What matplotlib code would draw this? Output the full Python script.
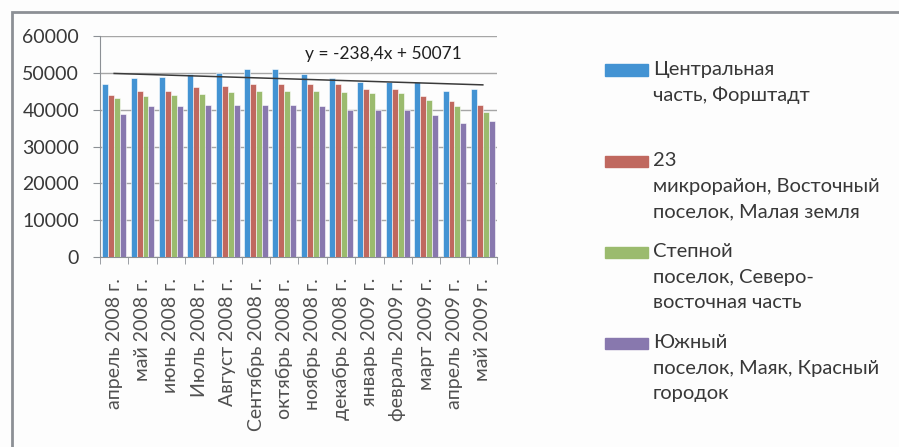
import numpy as np
import matplotlib.pyplot as plt
from matplotlib.patches import Rectangle

months = ['апрель 2008 г.', 'май 2008 г.', 'июнь 2008 г.', 'Июль 2008 г.',
          'Август 2008 г.', 'Сентябрь 2008 г.', 'октябрь 2008 г.', 'ноябрь 2008 г.',
          'декабрь 2008 г.', 'январь 2009 г.', 'февраль 2009 г.', 'март 2009 г.',
          'апрель 2009 г.', 'май 2009 г.']

central = [47000, 48500, 48800, 49700, 50000, 51000, 51000, 49700,
           48500, 47600, 47600, 47400, 45200, 45500]
mkr23 = [44000, 45200, 45200, 46200, 46500, 46900, 46900, 46900,
         46900, 45500, 45500, 43700, 42300, 41200]
stepnoy = [43200, 43700, 44000, 44300, 44900, 45200, 45200, 45200,
           44900, 44500, 44500, 42600, 41000, 39500]
yuzhny = [38900, 40900, 40900, 41200, 41200, 41400, 41400, 40900,
          40000, 40000, 40000, 38600, 36400, 36900]

series_labels = ['Центральная\nчасть, Форштадт',
                 '23\nмикрорайон, Восточный\nпоселок, Малая земля',
                 'Степной\nпоселок, Северо-\nвосточная часть',
                 'Южный\nпоселок, Маяк, Красный\nгородок']
colors = ['#4393D3', '#C0685F', '#9BBB6E', '#8878AE']

# линия тренда из подписи
trend_k = -238.4
trend_b = 50071
trend_text = 'y = -238,4x + 50071'

plt.rcParams['font.family'] = ['Lato', 'DejaVu Sans']
txt_col = '#383838'

fig = plt.figure(figsize=(8.99, 4.47), dpi=100)
fig.patch.set_facecolor('#FDFDFD')

# рамка области диаграммы
fig.patches.append(Rectangle((12 / 899, -0.1), 1.2, 1 - 12 / 447 + 0.1,
                             transform=fig.transFigure, fill=False,
                             edgecolor='#8C9095', linewidth=2))

ax = fig.add_axes([100 / 899, 1 - 257 / 447, 397 / 899, 221 / 447])
ax.set_facecolor('none')

x = np.arange(len(months))
w = 0.21
data = [central, mkr23, stepnoy, yuzhny]
for i, (vals, c) in enumerate(zip(data, colors)):
    ax.bar(x + (i - 1.5) * w, vals, width=w, color=c,
           edgecolor='white', linewidth=0.4, zorder=3)

xt = np.arange(1, len(months) + 1)
ax.plot(x, trend_k * xt + trend_b, color='#3A3A3A', linewidth=1.1, zorder=4)
ax.text(9.5, 55200, trend_text, fontsize=12.5, color='#202020',
        ha='center', va='center')

ax.set_xlim(-0.5, len(months) - 0.5)
ax.set_ylim(0, 60000)
ax.set_yticks(np.arange(0, 60001, 10000))
ax.yaxis.grid(True, color='#A6A6A6', linewidth=1, zorder=0)
ax.tick_params(axis='y', labelsize=14, colors='#8C9095', labelcolor=txt_col,
               length=5, pad=10)

ax.set_xticks(x)
ax.set_xticklabels(months, rotation=90, fontsize=14, color='#505050')
ax.set_xticks(np.arange(-0.5, len(months)), minor=True)
ax.tick_params(axis='x', which='major', length=0, pad=15)
ax.tick_params(axis='x', which='minor', length=5, color='#8C9095')

for s in ['top', 'right']:
    ax.spines[s].set_visible(False)
for s in ['left', 'bottom']:
    ax.spines[s].set_color('#8C9095')

# легенда справа
leg_y = [70, 161, 252, 343]
for lab, c, yy in zip(series_labels, colors, leg_y):
    fig.patches.append(Rectangle((605 / 899, 1 - (yy + 5.5) / 447), 43 / 899, 11 / 447,
                                 transform=fig.transFigure, color=c))
    fig.text(653 / 899, 1 - (yy - 9) / 447, lab, fontsize=14.5, color=txt_col,
             ha='left', va='top', linespacing=1.62)

fig.savefig('out.png', dpi=100, facecolor=fig.get_facecolor())
